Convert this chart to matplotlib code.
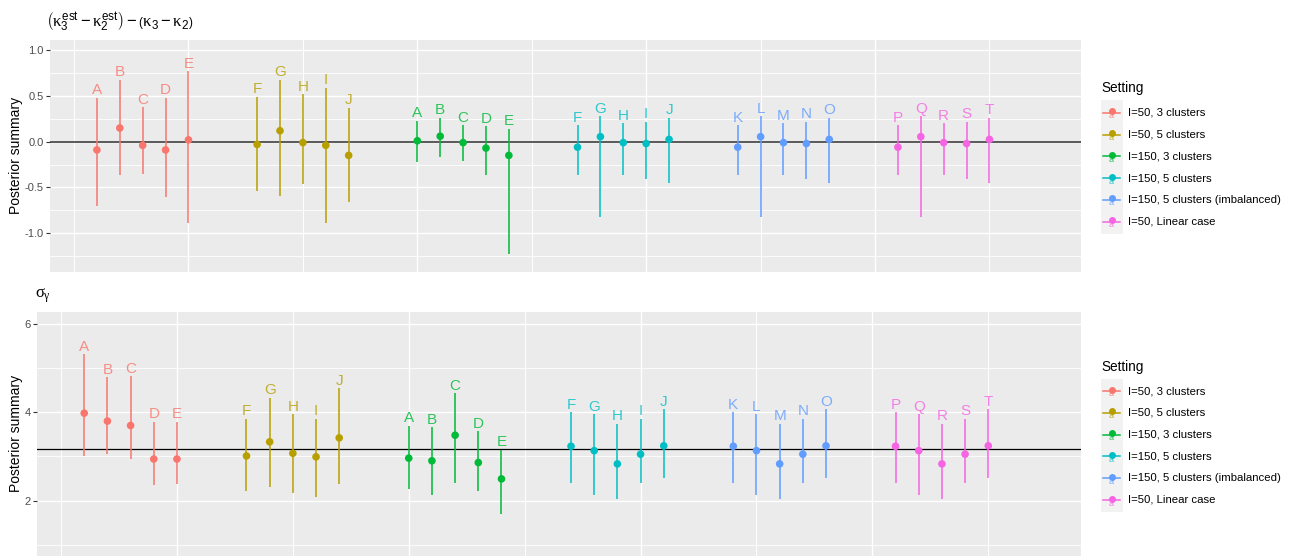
import numpy as np
import matplotlib.pyplot as plt

plt.rcParams['font.family'] = ['Liberation Sans', 'DejaVu Sans']
plt.rcParams['mathtext.fontset'] = 'custom'
plt.rcParams['mathtext.rm'] = 'Liberation Sans'
plt.rcParams['mathtext.it'] = 'Liberation Serif'

# --------------------------------------------------------------
# data
# --------------------------------------------------------------
settings = ["I=50, 3 clusters", "I=50, 5 clusters", "I=150, 3 clusters",
            "I=150, 5 clusters", "I=150, 5 clusters (imbalanced)", "I=50, Linear case"]
colors = ['#F8766D', '#B79F00', '#00BA38', '#00BFC4', '#619CFF', '#F564E3']

letters = list("ABCDE") + list("FGHIJ") + list("ABCDE") + list("FGHIJ") + list("KLMNO") + list("PQRST")
group = np.repeat(np.arange(6), 5)

# (kappa3_est - kappa2_est) - (kappa3 - kappa2)
kappa_mid = [-0.09, 0.15, -0.04, -0.09, 0.02,
             -0.03, 0.12, -0.01, -0.04, -0.15,
             0.01, 0.06, -0.01, -0.07, -0.15,
             -0.06, 0.055, -0.01, -0.02, 0.025,
             -0.06, 0.055, -0.01, -0.02, 0.025,
             -0.06, 0.055, -0.01, -0.02, 0.025]
kappa_lo = [-0.70, -0.37, -0.35, -0.61, -0.89,
            -0.54, -0.60, -0.46, -0.89, -0.66,
            -0.22, -0.17, -0.21, -0.37, -1.23,
            -0.36, -0.83, -0.37, -0.41, -0.45,
            -0.36, -0.83, -0.37, -0.41, -0.45,
            -0.36, -0.83, -0.37, -0.41, -0.45]
kappa_hi = [0.48, 0.68, 0.38, 0.48, 0.77,
            0.49, 0.68, 0.52, 0.59, 0.37,
            0.23, 0.26, 0.18, 0.17, 0.14,
            0.18, 0.28, 0.20, 0.22, 0.26,
            0.18, 0.28, 0.20, 0.22, 0.26,
            0.18, 0.28, 0.20, 0.22, 0.26]
kappa_true = 0.0

# sigma_gamma
sigma_mid = [3.98, 3.80, 3.70, 2.94, 2.94,
             3.01, 3.33, 3.07, 2.99, 3.42,
             2.96, 2.90, 3.48, 2.86, 2.49,
             3.23, 3.13, 2.83, 3.05, 3.24,
             3.23, 3.13, 2.83, 3.05, 3.24,
             3.23, 3.13, 2.83, 3.05, 3.24]
sigma_lo = [3.02, 3.06, 2.93, 2.35, 2.37,
            2.22, 2.31, 2.18, 2.09, 2.37,
            2.27, 2.13, 2.40, 2.22, 1.70,
            2.40, 2.12, 2.03, 2.40, 2.50,
            2.40, 2.12, 2.03, 2.40, 2.50,
            2.40, 2.12, 2.03, 2.40, 2.50]
sigma_hi = [5.32, 4.80, 4.82, 3.79, 3.79,
            3.85, 4.33, 3.96, 3.85, 4.54,
            3.70, 3.66, 4.43, 3.57, 3.15,
            4.00, 3.96, 3.74, 3.85, 4.07,
            4.00, 3.96, 3.74, 3.85, 4.07,
            4.00, 3.96, 3.74, 3.85, 4.07]
sigma_true = 3.16

# x position: 5 estimates per setting, a gap of 2 between settings
xpos = 6 + 7 * group + np.tile(np.arange(5), 6)
pt_colors = [colors[g] for g in group]

W, H = 1292, 557
fig = plt.figure(figsize=(W / 100, H / 100), dpi=100)


def px_axes(left, top, right, bottom):
    return fig.add_axes([left / W, 1 - bottom / H, (right - left) / W, (bottom - top) / H])


def style(ax, ylim, major, minor):
    ax.set_facecolor('#EBEBEB')
    ax.set_xlim(3.95, 49.0)
    ax.set_ylim(*ylim)
    for y in minor:
        ax.axhline(y, color='white', lw=0.6, zorder=0)
    for y in major:
        ax.axhline(y, color='white', lw=1.0, zorder=0)
    for x in range(5, 50, 5):
        ax.axvline(x, color='white', lw=1.0 if x % 10 == 0 else 0.7, zorder=0)
    ax.set_yticks(major)
    ax.set_xticks([])
    for s in ax.spines.values():
        s.set_visible(False)
    ax.tick_params(axis='y', length=2.9, width=0.8, color='#333333',
                   labelsize=8, labelcolor='#4D4D4D', pad=1.5)
    ax.set_ylabel('Posterior summary', fontsize=10, color='black', labelpad=1)


def draw(ax, mid, lo, hi, ref, ref_color, ref_lw):
    ax.axhline(ref, color=ref_color, lw=ref_lw, zorder=1)
    ax.vlines(xpos, lo, hi, colors=pt_colors, lw=1.1, zorder=2)
    ax.scatter(xpos, mid, s=30, c=pt_colors, zorder=3, linewidths=0)
    for x, h, t, c in zip(xpos, hi, letters, pt_colors):
        ax.annotate(t, (x, h), xytext=(0, 2.5), textcoords='offset points',
                    ha='center', va='baseline', fontsize=11, color=c, alpha=0.8)


# top panel
ax1 = px_axes(50, 40, 1081, 271.7)
style(ax1, (-1.424, 1.114), [-1.0, -0.5, 0.0, 0.5, 1.0], [-1.25, -0.75, -0.25, 0.25, 0.75])
ax1.set_yticklabels(['-1.0', '-0.5', '0.0', '0.5', '1.0'])
draw(ax1, kappa_mid, kappa_lo, kappa_hi, kappa_true, '#4D4D4D', 1.3)

# bottom panel
ax2 = px_axes(36.7, 311.7, 1081, 556)
style(ax2, (0.742, 6.28), [2, 4, 6], [1, 3, 5])
draw(ax2, sigma_mid, sigma_lo, sigma_hi, sigma_true, 'black', 0.9)

# overlay in pixel coordinates for titles and legends
ov = fig.add_axes([0, 0, 1, 1], zorder=10)
ov.set_xlim(0, W)
ov.set_ylim(H, 0)
ov.axis('off')

ov.text(46, 22, r'$\left(\kappa_3^{\mathrm{est}}-\kappa_2^{\mathrm{est}}\right)-\left(\kappa_3-\kappa_2\right)$',
        fontsize=12, ha='left', va='center')
ov.text(35, 296, r'$\sigma_\gamma$', fontsize=12, ha='left', va='center')


def legend(y_title, y_first):
    ov.text(1101, y_title, 'Setting', fontsize=9.8, ha='left', va='center')
    step = 21.8
    ov.add_patch(plt.Rectangle((1101, y_first - 12.5), 21.5, step * 6 + 3,
                               facecolor='#F2F2F2', edgecolor='none'))
    for i, (lab, c) in enumerate(zip(settings, colors)):
        y = y_first + i * step
        ov.plot([1103, 1120], [y, y], color=c, lw=1.1)
        ov.plot([1111.5], [y - 1.5], 'o', color=c, ms=5, mew=0)
        ov.text(1111.5, y + 3, 'a', fontsize=6.5, color=c, alpha=0.8, ha='center', va='center')
        ov.text(1128, y, lab, fontsize=8.2, ha='left', va='center')


legend(88.3, 112.7)
legend(366.7, 391)

plt.savefig('out.png', dpi=100)
plt.close()
